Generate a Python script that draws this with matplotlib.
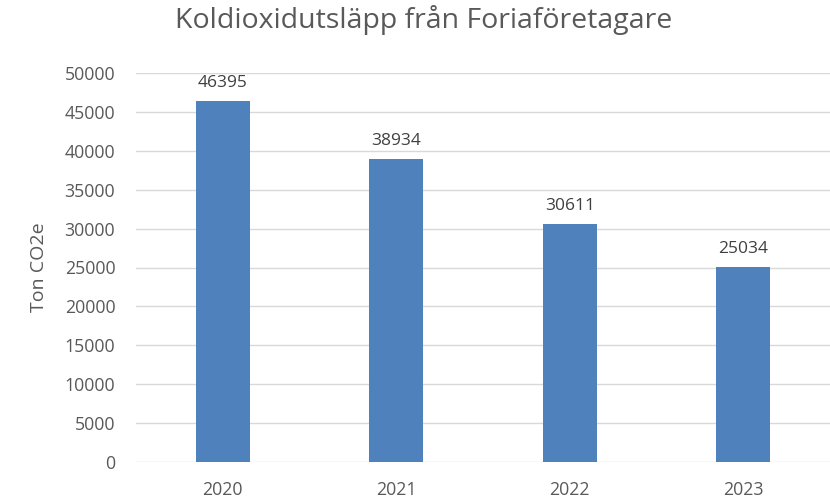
import matplotlib
matplotlib.use("Agg")
import matplotlib.pyplot as plt

years = ["2020", "2021", "2022", "2023"]
utslapp = [46395, 38934, 30611, 25034]
yticks = list(range(0, 50001, 5000))

plt.rcParams['font.family'] = ['Open Sans', 'DejaVu Sans']
grey = '#595959'

fig = plt.figure(figsize=(8.3, 5.0), dpi=100)
ax = fig.add_axes([0.164, 0.076, 0.836, 0.778])

x = range(len(years))
bars = ax.bar(x, utslapp, width=0.31, color='#4F81BD', zorder=3)
for b, v in zip(bars, utslapp):
    ax.text(b.get_x() + b.get_width() / 2, v + 1300, str(v), ha='center', va='bottom',
            fontsize=12.5, color='#404040')

ax.set_xlim(-0.5, len(years) - 0.5)
ax.set_ylim(0, 50000)
ax.set_yticks(yticks)
ax.set_yticklabels([str(t) for t in yticks], fontsize=12.8, color=grey)
ax.set_xticks(list(x))
ax.set_xticklabels(years, fontsize=12.8, color=grey)
ax.tick_params(length=0, pad=15)
ax.tick_params(axis='x', pad=14)
ax.grid(axis='y', color='#D9D9D9', linewidth=1, zorder=0)
for s in ax.spines.values():
    s.set_visible(False)
ax.set_ylabel("Ton CO2e", fontsize=14, color=grey, labelpad=12)
fig.suptitle("Koldioxidutsläpp från Foriaföretagare", fontsize=20.5, color=grey, x=0.51, y=0.99)

fig.savefig("out.png", dpi=100)
